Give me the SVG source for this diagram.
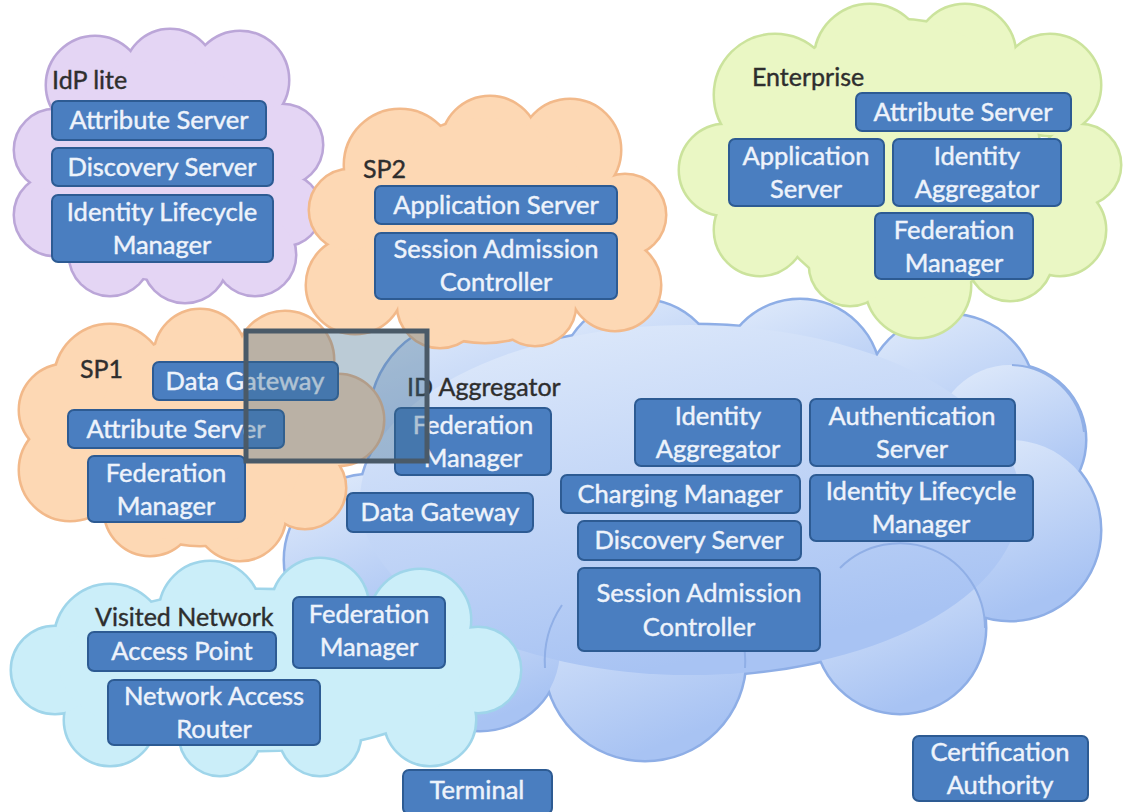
<svg xmlns="http://www.w3.org/2000/svg" xmlns:xlink="http://www.w3.org/1999/xlink" width="1125" height="812" viewBox="0 0 1125 812">
<style>
.lbl{font-family:Lato,"Liberation Sans",sans-serif;font-size:25px;fill:#2e2e2e;stroke:#2e2e2e;stroke-width:0.4}
.bt{font-family:Lato,"Liberation Sans",sans-serif;font-size:25.5px;fill:#eef3fb;stroke:#eef3fb;stroke-width:0.45;text-anchor:middle}
.box{fill:#4a7ec0;stroke:#2d5b93;stroke-width:2}
.edge{stroke-width:5}
.inner{fill:none;stroke:#90afe6;stroke-width:2}
</style>
<defs>
<linearGradient id="gBlue" x1="0" y1="0" x2="0.4" y2="1">
<stop offset="0" stop-color="#e2ecfb"/>
<stop offset="1" stop-color="#a8c3f3"/>
</linearGradient>
<g id="sIdp">
<circle cx="95" cy="85" r="48"/><circle cx="170" cy="75" r="45"/><circle cx="240" cy="80" r="48"/>
<circle cx="282" cy="145" r="40"/><circle cx="285" cy="210" r="35"/><circle cx="255" cy="255" r="40"/>
<circle cx="185" cy="260" r="42"/><circle cx="110" cy="255" r="40"/><circle cx="55" cy="215" r="40"/>
<circle cx="55" cy="150" r="40"/><circle cx="165" cy="170" r="110"/>
</g>
<g id="sSp2">
<circle cx="400" cy="165" r="55"/><circle cx="490" cy="145" r="48"/><circle cx="570" cy="150" r="50"/>
<circle cx="625" cy="215" r="40"/><circle cx="615" cy="285" r="45"/><circle cx="535" cy="305" r="40"/>
<circle cx="440" cy="305" r="42"/><circle cx="355" cy="285" r="48"/><circle cx="350" cy="210" r="40"/>
<circle cx="485" cy="230" r="112"/>
</g>
<g id="sEnt">
<circle cx="775" cy="95" r="60"/><circle cx="870" cy="60" r="55"/><circle cx="965" cy="55" r="50"/>
<circle cx="1050" cy="85" r="50"/><circle cx="1080" cy="165" r="40"/><circle cx="1060" cy="230" r="45"/>
<circle cx="1010" cy="258" r="42"/><circle cx="918" cy="285" r="52"/><circle cx="850" cy="265" r="40"/>
<circle cx="760" cy="230" r="45"/><circle cx="725" cy="170" r="45"/><circle cx="900" cy="160" r="140"/>
</g>
<g id="sIda">
<circle cx="470" cy="420" r="100"/><circle cx="640" cy="380" r="80"/><circle cx="800" cy="380" r="80"/>
<circle cx="950" cy="400" r="85"/><circle cx="1010" cy="440" r="75"/><circle cx="1010" cy="530" r="90"/>
<circle cx="900" cy="628" r="85"/><circle cx="645" cy="660" r="100"/>
<circle cx="480" cy="650" r="80"/><circle cx="370" cy="560" r="85"/><ellipse cx="690" cy="500" rx="330" ry="175"/>
</g>
<g id="sSp1">
<circle cx="110" cy="380" r="55"/><circle cx="200" cy="355" r="45"/><circle cx="285" cy="360" r="48"/>
<circle cx="338" cy="420" r="45"/><circle cx="305" cy="488" r="40"/><circle cx="240" cy="515" r="45"/>
<circle cx="150" cy="510" r="45"/><circle cx="70" cy="470" r="50"/><circle cx="65" cy="410" r="45"/>
<circle cx="200" cy="440" r="105"/>
</g>
<g id="sVis">
<circle cx="110" cy="640" r="55"/><circle cx="210" cy="612" r="50"/><circle cx="320" cy="607" r="48"/>
<circle cx="420" cy="620" r="50"/><circle cx="478" cy="670" r="42"/><circle cx="430" cy="720" r="45"/>
<circle cx="320" cy="735" r="40"/><circle cx="220" cy="735" r="40"/><circle cx="110" cy="720" r="45"/>
<circle cx="55" cy="670" r="43"/><ellipse cx="260" cy="670" rx="200" ry="80"/>
</g>
</defs>
<rect width="1125" height="812" fill="#ffffff"/>

<g id="cloud-id-aggregator">
<use xlink:href="#sIda" class="edge" fill="#8eaee6" stroke="#8eaee6"/>
<use xlink:href="#sIda" fill="url(#gBlue)" stroke="none"/>
<path class="inner" d="M840,568 A85,85 0 0 1 985,628"/>
<path class="inner" d="M545,668 A100,100 0 0 1 562,605"/>
<path class="inner" d="M745,668 A100,100 0 0 0 732,612"/>
<path class="inner" d="M1012,365 A75,75 0 0 1 1084,432"/>
<text class="lbl" x="407" y="396">ID Aggregator</text>
</g>
<g id="cloud-idp-lite">
<use xlink:href="#sIdp" class="edge" fill="#bba6d8" stroke="#bba6d8"/>
<use xlink:href="#sIdp" fill="#e4d5f4" stroke="none"/>
<text class="lbl" x="52" y="89">IdP lite</text>
</g>
<g id="cloud-sp2">
<use xlink:href="#sSp2" class="edge" fill="#f2b98a" stroke="#f2b98a"/>
<use xlink:href="#sSp2" fill="#fdd8b4" stroke="none"/>
<text class="lbl" x="363" y="178">SP2</text>
</g>
<g id="cloud-enterprise">
<use xlink:href="#sEnt" class="edge" fill="#cbe39c" stroke="#cbe39c"/>
<use xlink:href="#sEnt" fill="#eaf7c4" stroke="none"/>
<text class="lbl" x="752" y="86">Enterprise</text>
</g>
<g id="cloud-sp1">
<use xlink:href="#sSp1" class="edge" fill="#f2b98a" stroke="#f2b98a"/>
<use xlink:href="#sSp1" fill="#fdd8b4" stroke="none"/>
<text class="lbl" x="80" y="378">SP1</text>
</g>
<g id="cloud-visited-network">
<use xlink:href="#sVis" class="edge" fill="#9fd5ea" stroke="#9fd5ea"/>
<use xlink:href="#sVis" fill="#cbeef9" stroke="none"/>
<text class="lbl" x="95" y="626">Visited Network</text>
</g>

<g id="idp-attribute-server"><rect class="box" x="52" y="101" width="214" height="39" rx="6"/><text class="bt" x="159" y="129">Attribute Server</text></g>
<g id="idp-discovery-server"><rect class="box" x="52" y="148" width="221" height="38" rx="6"/><text class="bt" x="162" y="176">Discovery Server</text></g>
<g id="idp-identity-lifecycle"><rect class="box" x="52" y="195" width="221" height="67" rx="6"/><text class="bt" x="162" y="221">Identity Lifecycle</text><text class="bt" x="162" y="254">Manager</text></g>

<g id="sp2-application-server"><rect class="box" x="375" y="186" width="242" height="38" rx="6"/><text class="bt" x="496" y="214">Application Server</text></g>
<g id="sp2-session-admission"><rect class="box" x="375" y="233" width="242" height="66" rx="6"/><text class="bt" x="496" y="258">Session Admission</text><text class="bt" x="496" y="291">Controller</text></g>

<g id="ent-attribute-server"><rect class="box" x="856" y="93" width="215" height="38" rx="6"/><text class="bt" x="963" y="121">Attribute Server</text></g>
<g id="ent-application-server"><rect class="box" x="729" y="139" width="155" height="67" rx="6"/><text class="bt" x="806" y="165">Application</text><text class="bt" x="806" y="198">Server</text></g>
<g id="ent-identity-aggregator"><rect class="box" x="893" y="139" width="168" height="67" rx="6"/><text class="bt" x="977" y="165">Identity</text><text class="bt" x="977" y="198">Aggregator</text></g>
<g id="ent-federation-manager"><rect class="box" x="875" y="213" width="158" height="66" rx="6"/><text class="bt" x="954" y="239">Federation</text><text class="bt" x="954" y="272">Manager</text></g>

<g id="ida-federation-manager"><rect class="box" x="395" y="408" width="156" height="67" rx="6"/><text class="bt" x="473" y="434">Federation</text><text class="bt" x="473" y="467">Manager</text></g>
<g id="ida-data-gateway"><rect class="box" x="347" y="493" width="186" height="39" rx="6"/><text class="bt" x="440" y="521">Data Gateway</text></g>
<g id="ida-identity-aggregator"><rect class="box" x="635" y="399" width="166" height="67" rx="6"/><text class="bt" x="718" y="425">Identity</text><text class="bt" x="718" y="458">Aggregator</text></g>
<g id="ida-authentication-server"><rect class="box" x="810" y="399" width="205" height="67" rx="6"/><text class="bt" x="912" y="425">Authentication</text><text class="bt" x="912" y="458">Server</text></g>
<g id="ida-charging-manager"><rect class="box" x="561" y="475" width="239" height="38" rx="6"/><text class="bt" x="680" y="503">Charging Manager</text></g>
<g id="ida-identity-lifecycle"><rect class="box" x="810" y="475" width="223" height="66" rx="6"/><text class="bt" x="921" y="500">Identity Lifecycle</text><text class="bt" x="921" y="533">Manager</text></g>
<g id="ida-discovery-server"><rect class="box" x="578" y="521" width="223" height="39" rx="6"/><text class="bt" x="689" y="549">Discovery Server</text></g>
<g id="ida-session-admission"><rect class="box" x="578" y="568" width="242" height="83" rx="6"/><text class="bt" x="699" y="602">Session Admission</text><text class="bt" x="699" y="636">Controller</text></g>

<g id="sp1-data-gateway"><rect class="box" x="153" y="362" width="185" height="38" rx="6"/><text class="bt" x="245" y="390">Data Gateway</text></g>
<g id="sp1-attribute-server"><rect class="box" x="68" y="410" width="216" height="38" rx="6"/><text class="bt" x="176" y="438">Attribute Server</text></g>
<g id="sp1-federation-manager"><rect class="box" x="88" y="456" width="157" height="66" rx="6"/><text class="bt" x="166" y="482">Federation</text><text class="bt" x="166" y="515">Manager</text></g>

<g id="vis-federation-manager"><rect class="box" x="293" y="597" width="152" height="71" rx="6"/><text class="bt" x="369" y="623">Federation</text><text class="bt" x="369" y="656">Manager</text></g>
<g id="vis-access-point"><rect class="box" x="88" y="632" width="188" height="39" rx="6"/><text class="bt" x="182" y="660">Access Point</text></g>
<g id="vis-network-access-router"><rect class="box" x="108" y="680" width="212" height="65" rx="6"/><text class="bt" x="214" y="705">Network Access</text><text class="bt" x="214" y="738">Router</text></g>

<g id="terminal"><rect class="box" x="403" y="770" width="149" height="44" rx="6"/><text class="bt" x="477" y="799">Terminal</text></g>
<g id="certification-authority"><rect class="box" x="913" y="736" width="175" height="65" rx="6"/><text class="bt" x="1000" y="761">Certification</text><text class="bt" x="1000" y="794">Authority</text></g>

<g id="highlight">
<rect x="246" y="331" width="181" height="130" fill="#3c6a8a" fill-opacity="0.35" stroke="#4a5a68" stroke-width="5"/>
</g>
<g id="connectors"></g>
</svg>
